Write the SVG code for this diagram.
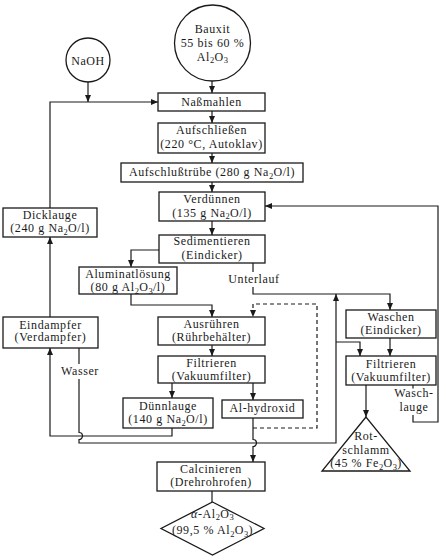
<svg xmlns="http://www.w3.org/2000/svg" width="446" height="560" viewBox="0 0 446 560">
<style>
  .n { fill: #fff; stroke: #1a1a1a; stroke-width: 1.3; }
  .t { font-family: "Liberation Serif", "Times New Roman", serif; font-size: 12px; letter-spacing: 0.6px; fill: #1a1a1a; text-anchor: middle; }
  .s { font-size: 8.5px; letter-spacing: 0.2px; }
  .c { fill: none; stroke: #1a1a1a; stroke-width: 1.2; }
  .d { stroke-dasharray: 4 3; }
  .bg { fill: #fff; stroke: none; }
</style>
<defs>
  <marker id="a" markerWidth="7" markerHeight="6" refX="7" refY="3" orient="auto" markerUnits="userSpaceOnUse">
    <path d="M0,0 L7,3 L0,6 z" fill="#1a1a1a"/>
  </marker>
</defs>
<rect width="446" height="560" fill="#fff"/>

<g id="connectors">
  <path class="c" d="M88,82 V102" marker-end="url(#a)"/>
  <path class="c" d="M50,208 V102 H158" marker-end="url(#a)"/>
  <path class="c" d="M212,81 V93" marker-end="url(#a)"/>
  <path class="c" d="M212,111 V123" marker-end="url(#a)"/>
  <path class="c" d="M212,153 V163" marker-end="url(#a)"/>
  <path class="c" d="M212,182 V192" marker-end="url(#a)"/>
  <path class="c" d="M212,221 V235" marker-end="url(#a)"/>
  <path class="c" d="M159,250 H131 V267" marker-end="url(#a)"/>
  <path class="c" d="M253,263 V294 H390 V310" marker-end="url(#a)"/>
  <path class="c" d="M131,294 V305 H212 V317" marker-end="url(#a)"/>
  <path class="c d" d="M253,428 H317 V304 H253 V317" marker-end="url(#a)"/>
  <path class="c" d="M212,345 V356" marker-end="url(#a)"/>
  <path class="c" d="M172,383 V398" marker-end="url(#a)"/>
  <path class="c" d="M253,383 V400" marker-end="url(#a)"/>
  <path class="c" d="M253,418 V439.5 A3.5,3.5 0 0 1 253,446.5 V462" marker-end="url(#a)"/>
  <path class="c" d="M172,428 V436 H50 V348" marker-end="url(#a)"/>
  <path class="c" d="M50,317 V237" marker-end="url(#a)"/>
  <path class="c" d="M79,348 V432.5 A3.5,3.5 0 0 1 79,439.5 V443 H336 V294" marker-end="url(#a)"/>
  <path class="c" d="M336,342 H360 V356" marker-end="url(#a)"/>
  <path class="c" d="M390,338 V356" marker-end="url(#a)"/>
  <path class="c" d="M366,385 V417" marker-end="url(#a)"/>
  <path class="c" d="M413,385 V422 H438 V206 H265" marker-end="url(#a)"/>
  <path class="c" d="M212,491 V502"/>
  <rect class="bg" x="226" y="272" width="56" height="15"/>
  <text class="t" x="254" y="283">Unterlauf</text>
  <rect class="bg" x="58" y="364" width="44" height="15"/>
  <text class="t" x="80" y="375">Wasser</text>
  <rect class="bg" x="397" y="388.5" width="34" height="26.5"/>
  <text class="t" x="414" y="396.5">Wasch-</text>
  <text class="t" x="414" y="411">lauge</text>
</g>

<g id="naoh">
  <circle class="n" cx="88" cy="60" r="22"/>
  <text class="t" x="88" y="64.5">NaOH</text>
</g>
<g id="bauxit">
  <circle class="n" cx="212.5" cy="43" r="38"/>
  <text class="t" x="212.5" y="32.5">Bauxit</text>
  <text class="t" x="212.5" y="46.5">55 bis 60 %</text>
  <text class="t" x="212.5" y="60.5">Al<tspan class="s" dy="2.5">2</tspan><tspan dy="-2.5">O</tspan><tspan class="s" dy="2.5">3</tspan></text>
</g>
<g id="nassmahlen">
  <rect class="n" x="158" y="93" width="107" height="18"/>
  <text class="t" x="211.5" y="106">Naßmahlen</text>
</g>
<g id="aufschliessen">
  <rect class="n" x="158" y="123" width="107" height="30"/>
  <text class="t" x="211.5" y="134">Aufschließen</text>
  <text class="t" x="211.5" y="148">(220 °C, Autoklav)</text>
</g>
<g id="aufschlusstruebe">
  <rect class="n" x="121" y="163" width="182" height="19"/>
  <text class="t" x="212" y="176">Aufschlußtrübe (280 g Na<tspan class="s" dy="2.5">2</tspan><tspan dy="-2.5">O/l)</tspan></text>
</g>
<g id="verduennen">
  <rect class="n" x="159" y="192" width="106" height="29"/>
  <text class="t" x="212" y="203">Verdünnen</text>
  <text class="t" x="212" y="216.5">(135 g Na<tspan class="s" dy="2.5">2</tspan><tspan dy="-2.5">O/l)</tspan></text>
</g>
<g id="dicklauge">
  <rect class="n" x="3" y="208" width="94" height="29"/>
  <text class="t" x="50" y="218.5">Dicklauge</text>
  <text class="t" x="50" y="232">(240 g Na<tspan class="s" dy="2.5">2</tspan><tspan dy="-2.5">O/l)</tspan></text>
</g>
<g id="sedimentieren">
  <rect class="n" x="159" y="235" width="106" height="28"/>
  <text class="t" x="212" y="245">Sedimentieren</text>
  <text class="t" x="212" y="259">(Eindicker)</text>
</g>
<g id="aluminatloesung">
  <rect class="n" x="79" y="267" width="98" height="27"/>
  <text class="t" x="128" y="277.7">Aluminatlösung</text>
  <text class="t" x="128" y="291">(80 g Al<tspan class="s" dy="2.5">2</tspan><tspan dy="-2.5">O</tspan><tspan class="s" dy="2.5">3</tspan><tspan dy="-2.5">/l)</tspan></text>
</g>
<g id="ausruehren">
  <rect class="n" x="158" y="317" width="107" height="28"/>
  <text class="t" x="211.5" y="327.5">Ausrühren</text>
  <text class="t" x="211.5" y="340.5">(Rührbehälter)</text>
</g>
<g id="eindampfer">
  <rect class="n" x="3" y="317" width="95" height="31"/>
  <text class="t" x="50.5" y="328.5">Eindampfer</text>
  <text class="t" x="50.5" y="341">(Verdampfer)</text>
</g>
<g id="filtrieren1">
  <rect class="n" x="158" y="356" width="107" height="27"/>
  <text class="t" x="211.5" y="367">Filtrieren</text>
  <text class="t" x="211.5" y="380">(Vakuumfilter)</text>
</g>
<g id="duennlauge">
  <rect class="n" x="123" y="398" width="90" height="30"/>
  <text class="t" x="168" y="410">Dünnlauge</text>
  <text class="t" x="168" y="423">(140 g Na<tspan class="s" dy="2.5">2</tspan><tspan dy="-2.5">O/l)</tspan></text>
</g>
<g id="alhydroxid">
  <rect class="n" x="222" y="400" width="81" height="18"/>
  <text class="t" x="262.5" y="412">Al-hydroxid</text>
</g>
<g id="waschen">
  <rect class="n" x="346" y="310" width="90" height="28"/>
  <text class="t" x="391" y="321">Waschen</text>
  <text class="t" x="391" y="334">(Eindicker)</text>
</g>
<g id="filtrieren2">
  <rect class="n" x="346" y="356" width="90" height="29"/>
  <text class="t" x="391" y="367.5">Filtrieren</text>
  <text class="t" x="391" y="380.5">(Vakuumfilter)</text>
</g>
<g id="rotschlamm">
  <polygon class="n" points="366,417 322,471 410,471"/>
  <text class="t" x="366" y="439.5">Rot-</text>
  <text class="t" x="366" y="453.5">schlamm</text>
  <text class="t" x="366" y="467">(45 % Fe<tspan class="s" dy="2.5">2</tspan><tspan dy="-2.5">O</tspan><tspan class="s" dy="2.5">3</tspan><tspan dy="-2.5">)</tspan></text>
</g>
<g id="calcinieren">
  <rect class="n" x="157" y="462" width="108" height="29"/>
  <text class="t" x="211" y="473">Calcinieren</text>
  <text class="t" x="211" y="485.5">(Drehrohrofen)</text>
</g>
<g id="alpha">
  <polygon class="n" points="212.5,502 264,528.5 212.5,555 161,528.5"/>
  <text class="t" x="212.5" y="517.5"><tspan font-style="italic">α</tspan>-Al<tspan class="s" dy="2.5">2</tspan><tspan dy="-2.5">O</tspan><tspan class="s" dy="2.5">3</tspan></text>
  <text class="t" x="212.5" y="534">(99,5 % Al<tspan class="s" dy="2.5">2</tspan><tspan dy="-2.5">O</tspan><tspan class="s" dy="2.5">3</tspan><tspan dy="-2.5">)</tspan></text>
</g>
</svg>
